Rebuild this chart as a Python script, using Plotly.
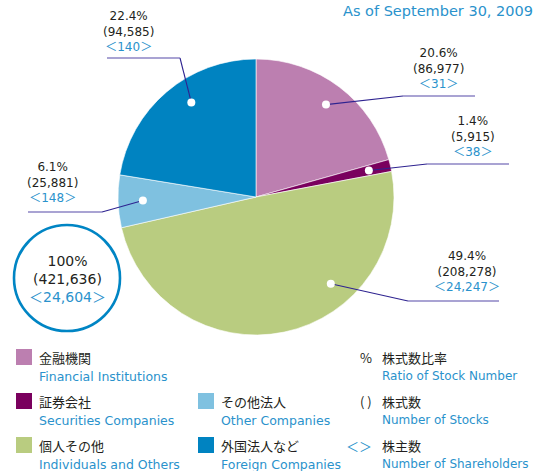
import math
import plotly.graph_objects as go

# Shareholder composition as of September 30, 2009
categories_ja = ["金融機関", "証券会社", "個人その他", "その他法人", "外国法人など"]
categories_en = ["Financial Institutions", "Securities Companies", "Individuals and Others",
                 "Other Companies", "Foreign Companies"]
ratio_pct = [20.6, 1.4, 49.4, 6.1, 22.4]
stocks = [86977, 5915, 208278, 25881, 94585]
shareholders = [31, 38, 24247, 148, 140]
total_ratio = 100
total_stocks = 421636
total_shareholders = 24604

colors = ["#BC7FB0", "#7A005E", "#B9CC80", "#7FC1E0", "#0083C1"]
BLUE_TEXT = "#2A92CC"
DARK = "#231F20"
LINE = "#2E2390"

W, H = 539, 471
CX, CY, R = 256, 197, 138
FONT = "DejaVu Sans, Noto Sans CJK JP, sans-serif"
CJK = "Noto Sans CJK JP"


def px(x):
    return x / W


def py(y):
    return 1 - y / H


fig = go.Figure()
fig.add_trace(go.Pie(
    values=stocks,
    labels=categories_en,
    marker=dict(colors=colors, line=dict(color="white", width=0.6)),
    sort=False,
    direction="clockwise",
    rotation=0,
    textinfo="none",
    hoverinfo="label+percent",
    showlegend=False,
    domain=dict(x=[px(CX - R), px(CX + R)], y=[py(CY + R), py(CY - R)]),
))

# Leader-line geometry per slice: anchor angle offset, elbow point, line end, text centre
total = sum(stocks)
layout_spec = [
    dict(ang_shift=0, rfrac=0.84, elbow=(403, 96), end=(475, 96), text=(438, 69)),
    dict(ang_shift=0, rfrac=0.84, elbow=(427, 164), end=(509, 164), text=(473, 137)),
    dict(ang_shift=-29, rfrac=0.83, elbow=(408, 301), end=(499, 301), text=(467, 271)),
    dict(ang_shift=0, rfrac=0.82, elbow=(102, 212), end=(28, 212), text=(52, 182)),
    dict(ang_shift=6, rfrac=0.83, elbow=(180, 58), end=(107, 58), text=(128, 32)),
]

shapes = []
annotations = []
cum = 0
for i, v in enumerate(stocks):
    mid = (cum + v / 2) / total * 360 + layout_spec[i]["ang_shift"]
    cum += v
    rr = R * layout_spec[i]["rfrac"]
    dx = CX + rr * math.sin(math.radians(mid))
    dy = CY - rr * math.cos(math.radians(mid))
    ex, ey = layout_spec[i]["elbow"]
    hx, hy = layout_spec[i]["end"]
    shapes.append(dict(type="line", xref="paper", yref="paper",
                       x0=px(dx), y0=py(dy), x1=px(ex), y1=py(ey),
                       line=dict(color=LINE, width=1.1)))
    shapes.append(dict(type="line", xref="paper", yref="paper",
                       x0=px(ex), y0=py(ey), x1=px(hx), y1=py(hy),
                       line=dict(color="#5548A8", width=1.1)))
    shapes.append(dict(type="circle", xref="paper", yref="paper",
                       x0=px(dx - 4), x1=px(dx + 4), y0=py(dy + 4), y1=py(dy - 4),
                       fillcolor="white", line=dict(width=0)))
    tx, ty = layout_spec[i]["text"]
    annotations.append(dict(
        x=px(tx), y=py(ty), xref="paper", yref="paper", showarrow=False,
        xanchor="center", yanchor="middle", align="center",
        text=(f"<span style='color:{DARK}'>{ratio_pct[i]}%<br>({stocks[i]:,})</span><br>"
              f"<span style='color:{BLUE_TEXT};font-family:{FONT}'>"
              f"<span style='font-family:{CJK}'>＜</span>{shareholders[i]:,}"
              f"<span style='font-family:{CJK}'>＞</span></span>"),
        font=dict(family=FONT, size=12, color=DARK),
    ))

# Total circle
shapes.append(dict(type="circle", xref="paper", yref="paper",
                   x0=px(67 - 53), x1=px(67 + 53), y0=py(278 + 53), y1=py(278 - 53),
                   line=dict(color="#0085C4", width=2.6), fillcolor="rgba(0,0,0,0)"))
annotations.append(dict(
    x=px(67), y=py(279), xref="paper", yref="paper", showarrow=False,
    xanchor="center", yanchor="middle", align="center",
    text=(f"<span style='color:{DARK}'>{total_ratio}%<br>({total_stocks:,})</span><br>"
          f"<span style='color:{BLUE_TEXT}'><span style='font-family:{CJK}'>＜</span>"
          f"{total_shareholders:,}<span style='font-family:{CJK}'>＞</span></span>"),
    font=dict(family=FONT, size=14, color=DARK),
))

# Title
annotations.append(dict(
    x=px(341), y=py(11), xref="paper", yref="paper", showarrow=False,
    xanchor="left", yanchor="middle", text="As of September 30, 2009",
    font=dict(family=FONT, size=14.5, color=BLUE_TEXT),
))

# Legend swatches and labels
legend_pos = [(16, 357), (16, 401), (16, 445), (198, 401), (198, 445)]
for i, (lx, ly) in enumerate(legend_pos):
    shapes.append(dict(type="rect", xref="paper", yref="paper",
                       x0=px(lx), x1=px(lx + 16), y0=py(ly + 8), y1=py(ly - 8),
                       fillcolor=colors[i], line=dict(width=0)))
    annotations.append(dict(x=px(lx + 21), y=py(ly), xref="paper", yref="paper",
                            showarrow=False, xanchor="left", yanchor="middle",
                            text=categories_ja[i],
                            font=dict(family=CJK, size=13, color=DARK)))
    annotations.append(dict(x=px(lx + 21), y=py(ly + 19), xref="paper", yref="paper",
                            showarrow=False, xanchor="left", yanchor="middle",
                            text=categories_en[i],
                            font=dict(family=FONT, size=12.5, color=BLUE_TEXT)))

# Key for the number formats
key = [("%", DARK, "株式数比率", "Ratio of Stock Number", 357),
       ("( )", DARK, "株式数", "Number of Stocks", 401),
       ("＜＞", BLUE_TEXT, "株主数", "Number of Shareholders", 445)]
for sym, col, ja, en, ky in key:
    annotations.append(dict(x=px(374), y=py(ky), xref="paper", yref="paper",
                            showarrow=False, xanchor="right", yanchor="middle",
                            text=sym, font=dict(family=CJK, size=13, color=col)))
    annotations.append(dict(x=px(380), y=py(ky), xref="paper", yref="paper",
                            showarrow=False, xanchor="left", yanchor="middle",
                            text=ja, font=dict(family=CJK, size=13, color=DARK)))
    annotations.append(dict(x=px(380), y=py(ky + 19), xref="paper", yref="paper",
                            showarrow=False, xanchor="left", yanchor="middle",
                            text=en, font=dict(family=FONT, size=12, color=BLUE_TEXT)))

fig.update_layout(
    width=W, height=H,
    margin=dict(l=0, r=0, t=0, b=0),
    paper_bgcolor="white",
    plot_bgcolor="white",
    shapes=shapes,
    annotations=annotations,
)

fig.write_html("out.html")
